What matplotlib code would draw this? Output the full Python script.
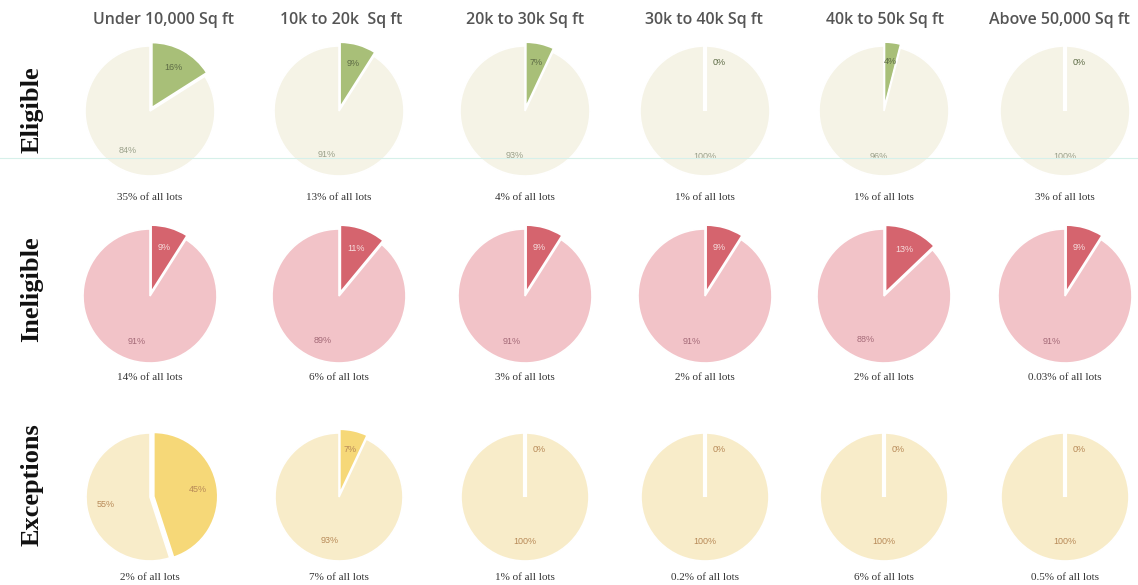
import matplotlib
matplotlib.use("Agg")
import matplotlib.pyplot as plt

sizes = ["Under 10,000 Sq ft", "10k to 20k  Sq ft", "20k to 30k Sq ft",
         "30k to 40k Sq ft", "40k to 50k Sq ft", "Above 50,000 Sq ft"]
groups = ["Eligible", "Ineligible", "Exceptions"]

eligible_small = [16, 9, 7, 0, 4, 0]
eligible_rest = [84, 91, 93, 100, 96, 100]
ineligible_small = [9, 11, 9, 9, 13, 9]
ineligible_rest = [91, 89, 91, 91, 88, 91]
exceptions_small = [45, 7, 0, 0, 0, 0]
exceptions_rest = [55, 93, 100, 100, 100, 100]

eligible_share = ["35% of all lots", "13% of all lots", "4% of all lots",
                  "1% of all lots", "1% of all lots", "3% of all lots"]
ineligible_share = ["14% of all lots", "6% of all lots", "3% of all lots",
                    "2% of all lots", "2% of all lots", "0.03% of all lots"]
exceptions_share = ["2% of all lots", "7% of all lots", "1% of all lots",
                    "0.2% of all lots", "6% of all lots", "0.5% of all lots"]

rows = [
    (eligible_small, eligible_rest, eligible_share,
     ["#a8bf78", "#f5f3e6"], ["#5d6b45", "#9aa08a"]),
    (ineligible_small, ineligible_rest, ineligible_share,
     ["#d5646e", "#f2c3c8"], ["#f6dede", "#a46a78"]),
    (exceptions_small, exceptions_rest, exceptions_share,
     ["#f6d878", "#f8ecc9"], ["#b88a58", "#b88a58"]),
]

W, H = 1138, 585
head_x = [164, 341, 525, 704, 885, 1059]
col_x = [150, 339, 525, 705, 884, 1065]
row_y = [111, 296, 497]
label_y = [110, 289, 485]
share_y = [197, 378, 577]
radius = [65, 67, 64]

fig = plt.figure(figsize=(W / 100, H / 100), dpi=100)
fig.patch.set_facecolor("white")

# faint scan line across the first row
fig.add_artist(plt.Line2D([0, 1], [1 - 158 / H, 1 - 158 / H],
                          transform=fig.transFigure, color="#d6f0ea", lw=0.8))

for j, name in enumerate(sizes):
    fig.text(head_x[j] / W, 1 - 20 / H, name, ha="center", va="center",
             fontsize=11.5, color="#555555", family="Open Sans",
             fontweight="semibold")

for i, g in enumerate(groups):
    fig.text(32 / W, 1 - label_y[i] / H, g, rotation=90, ha="center",
             va="center", fontsize=19, fontweight="bold",
             family="Liberation Serif", color="#111111")

for i, (small, rest, share, colors, tcolors) in enumerate(rows):
    for j in range(len(sizes)):
        r = radius[i]
        ax = fig.add_axes([(col_x[j] - r) / W, 1 - (row_y[i] + r) / H,
                           2 * r / W, 2 * r / H])
        wedges, texts, autotexts = ax.pie(
            [small[j], rest[j]], colors=colors, startangle=90,
            counterclock=False, explode=[0.06, 0], autopct="%d%%",
            pctdistance=0.7, normalize=True,
            wedgeprops=dict(edgecolor="white", linewidth=1.2),
            textprops=dict(fontsize=6.5, family="Liberation Sans"))
        autotexts[0].set_text(f"{small[j]}%")
        autotexts[1].set_text(f"{rest[j]}%")
        for t, c in zip(autotexts, tcolors):
            t.set_color(c)
        if small[j] == 0:
            autotexts[0].set_position((0.22, 0.75))
            # zero slice still leaves a white cut from the centre
            ax.plot([0, 0], [0, 1.0], color="white", lw=3,
                    solid_capstyle="butt", zorder=3)
        ax.set_xlim(-1, 1)
        ax.set_ylim(-1, 1)
        ax.set_aspect("equal")
        for w in wedges:
            w.set_clip_on(False)
        fig.text(col_x[j] / W, 1 - share_y[i] / H, share[j], ha="center",
                 va="center", fontsize=8, family="Liberation Serif",
                 color="#333333")

plt.savefig("out.png", dpi=100)
